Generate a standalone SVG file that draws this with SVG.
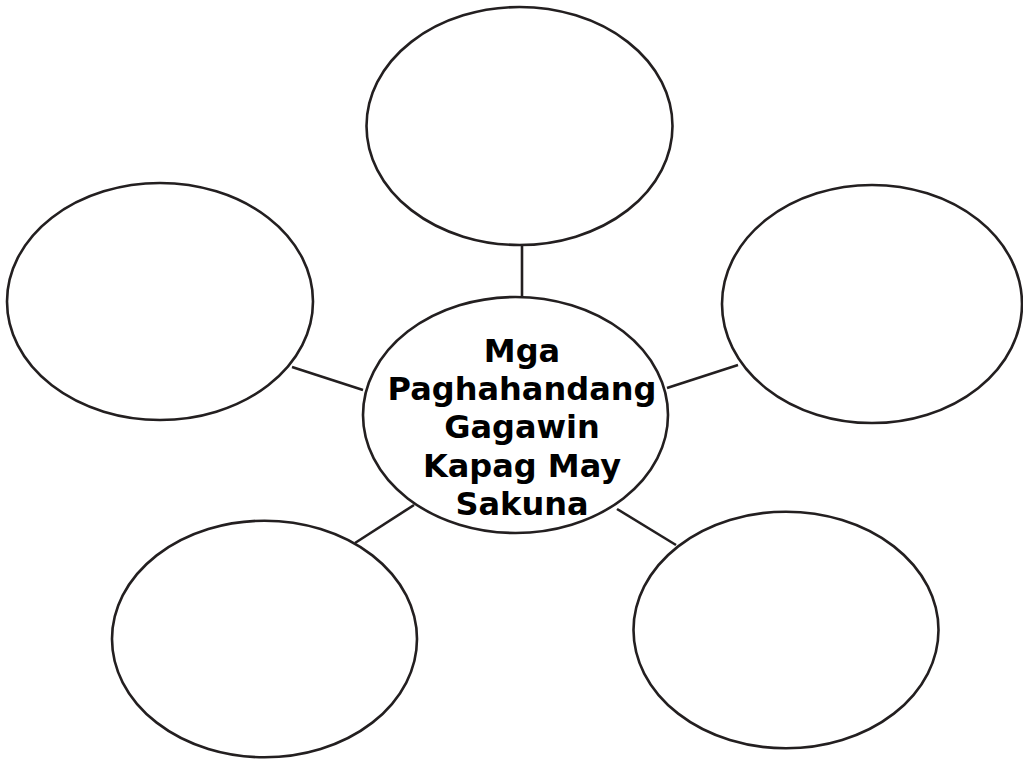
<svg xmlns="http://www.w3.org/2000/svg" width="1023" height="759" viewBox="0 0 1023 759">
<style>
.node{fill:#fff;stroke:#231f20;stroke-width:2.6}
.conn{stroke:#231f20;stroke-width:2.6;fill:none}
.lbl{font-family:"DejaVu Sans",sans-serif;font-weight:bold;font-size:32px;fill:#000;text-anchor:middle}
</style>
<rect width="1023" height="759" fill="#fff"/>
<g id="connectors">
<line class="conn" x1="522" y1="243" x2="522" y2="298"/>
<line class="conn" x1="292" y1="367" x2="363" y2="390"/>
<line class="conn" x1="667" y1="388" x2="738" y2="365"/>
<line class="conn" x1="355" y1="543" x2="414" y2="505"/>
<line class="conn" x1="617" y1="509" x2="676" y2="545"/>
</g>
<g id="node-top"><ellipse class="node" cx="519.5" cy="126" rx="153" ry="119"/></g>
<g id="node-left"><ellipse class="node" cx="160" cy="301.5" rx="153" ry="118.5"/></g>
<g id="node-right"><ellipse class="node" cx="872" cy="304" rx="150" ry="119"/></g>
<g id="node-bottom-left"><ellipse class="node" cx="264.5" cy="639" rx="152.5" ry="118.3"/></g>
<g id="node-bottom-right"><ellipse class="node" cx="786" cy="630" rx="152.5" ry="118.3"/></g>
<g id="node-center">
<ellipse class="node" cx="515.5" cy="415" rx="152.5" ry="118"/>
<text class="lbl" x="522" y="362">Mga</text>
<text class="lbl" x="522" y="400">Paghahandang</text>
<text class="lbl" x="522" y="438">Gagawin</text>
<text class="lbl" x="522" y="477">Kapag May</text>
<text class="lbl" x="522" y="515">Sakuna</text>
</g>
</svg>
